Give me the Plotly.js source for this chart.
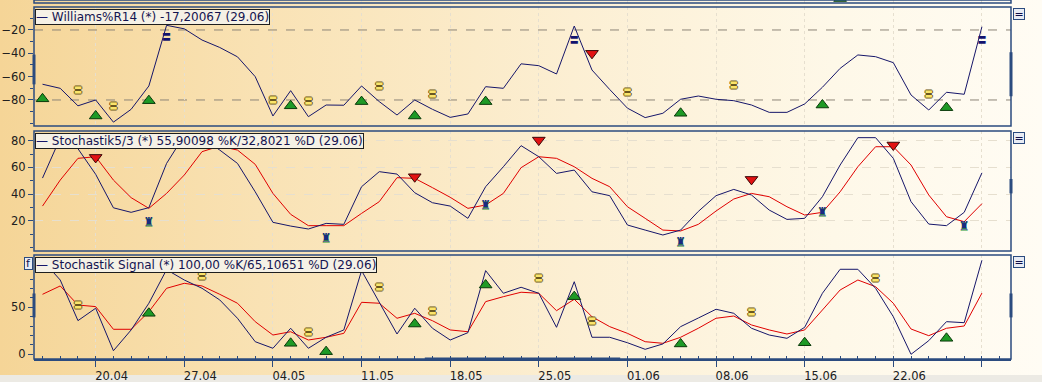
<!DOCTYPE html>
<html><head><meta charset="utf-8">
<script src="https://cdn.plot.ly/plotly-3.0.1.min.js"></script>
<style>
html,body{margin:0;padding:0;background:#fff;}
#wrap{width:1042px;height:382px;position:relative;overflow:hidden;
 background:linear-gradient(to right,#F5D597 0%,#F9E2B4 25%,#FCEFD3 55%,#FEF8E8 80%,#FFFCF4 100%);}
#strip{position:absolute;left:0;right:0;top:375px;height:7px;background:#ECEAE4;}
#chart{position:absolute;left:0;top:0;width:1042px;height:382px;}
</style></head>
<body><div id="wrap"><div id="strip"></div><div id="chart"></div></div>
<script>
// ---------- DATA ----------
const dates = ['15.04','16.04','17.04','20.04','21.04','22.04','23.04','24.04','27.04','28.04','29.04','30.04','01.05',
 '04.05','05.05','06.05','07.05','08.05','11.05','12.05','13.05','14.05','15.05','18.05','19.05','20.05','21.05','22.05',
 '25.05','26.05','27.05','28.05','29.05','01.06','02.06','03.06','04.06','05.06','08.06','09.06','10.06','11.06','12.06',
 '15.06','16.06','17.06','18.06','19.06','22.06','23.06','24.06','25.06','26.06','29.06'];
const weekTicks = ['20.04','27.04','04.05','11.05','18.05','25.05','01.06','08.06','15.06','22.06','29.06'];
const weekLabels = ['20.04','27.04','04.05','11.05','18.05','25.05','01.06','08.06','15.06','22.06',''];

const williams = [-66.5,-70,-85,-80,-99,-88,-68,-16,-19,-28.6,-35,-43,-60,-93.7,-72,-94.3,-84.3,-84.5,-68,-81.4,-92.9,-80,-88,-94.9,-92,-68.6,-70,-49,-50.6,-57.7,-16.6,-54.3,-71,-87,-95.1,-91.4,-79.4,-76.6,-79.4,-80.6,-84.3,-90.6,-90.6,-83.4,-69.1,-52.9,-41.4,-42.9,-48,-75.7,-88.6,-73.4,-75.1,-17.2];
const williamsLevels = [-20,-80];
const willBuyDates = ['15.04','20.04','23.04','05.05','11.05','14.05','20.05','04.06','16.06','25.06'];
const willBuyVals = [-79,-93.7,-80.6,-85,-81.4,-93.7,-81.4,-91.4,-84.3,-86.6];
const willSellDates = ['28.05'];
const willSellVals = [-40];
const willNeutralDates = ['17.04','21.04','04.05','06.05','12.05','15.05','01.06','09.06','24.06'];
const willNeutralVals = [-72,-85.7,-80.6,-81.4,-68.6,-75.7,-73.7,-68,-75.7];
const willExtremeDates = ['24.04','27.05','29.06'];
const willExtremeVals = [-27,-29.4,-29.4];

const stochK = [52,82,74,54.8,29.7,26.3,29.8,63,84,82,73,63,41.7,18.8,16,13.8,18,17.3,45.5,56.8,55,41,33.5,31,21.8,45.5,60.5,76.3,68,55.5,58,41.7,38.8,16.8,13,9.3,13,27,38.8,43.5,39.3,28,21,21.8,38,61.8,82.3,82.3,66.8,34.3,17.5,16.3,26.3,55.9];
const stochD = [31,50.5,66.8,68,50.5,37.3,29.3,40.5,54.3,71.8,76,73,62.3,40.5,24.8,16.3,16.3,16.3,25.5,34.3,52.3,51.8,44.8,37.6,29.3,31.8,40.5,59.8,68,66.8,60.5,51.8,45.5,30.5,21.8,13,12.3,17.3,27.3,36.3,40.5,38,30.5,24.3,26.3,41.7,60.5,75.5,75.5,61.8,39.3,23,19.3,32.8];
const stSellDates = ['20.04','14.05','25.05','10.06','22.06'];
const stSellVals = [67.5,53,80.5,51,76.8];
const stBuyDates = ['23.04','07.05','20.05','04.06','16.06','26.06'];
const stBuyVals = [18.5,6.3,31.3,3,25.5,15.5];

const signalK = [100,79,35.8,49,3.8,25.9,54.3,90,79,70.2,57.8,38.3,13.4,6.4,27.7,6.4,18.1,25.9,89,56,21.6,49,27.7,15.2,23,89,64.9,71.3,64.9,28.7,77.2,18.1,18.1,12.3,5.3,11,29.4,38.6,47.9,43.6,27.7,20.5,17,28.7,64.9,90.4,90.4,70.2,40,0,14.5,34.7,33.6,100];
const signalD = [63.8,72.7,52.4,50.7,26.6,26.6,45.3,70.2,75.5,72.7,63.8,54.3,34.7,20.5,24,15.2,18.1,22.3,55.3,54.3,38.3,43.6,35.7,25.9,24,56,61.3,66,64.9,46.4,58.5,40,29.4,22.3,13.4,11.7,18.1,27.7,38.3,40.7,31.2,25.9,21.6,25.9,47.1,68.4,79,71.9,54.3,26.9,19.8,27.7,30.1,65.1];
const sgBuyDates = ['23.04','05.05','07.05','14.05','20.05','27.05','04.06','15.06','25.06'];
const sgBuyVals = [43.6,11.7,2.8,32.2,73.7,61.3,11,12.3,17];
const sgNeutralDates = ['17.04','28.04','06.05','12.05','15.05','25.05','28.05','10.06','19.06'];
const sgNeutralVals = [51.4,82,23,70.2,44.7,80.1,34.7,43.6,80.1];

const topBuyDates = ['17.06'];
const topBuyVals = [1.5];

const legendTexts = ['Williams%R14 (*) -17,20067 (29.06)',
  'Stochastik5/3 (*) 55,90098 %K/32,8021 %D (29.06)',
  'Stochastik Signal (*) 100,00 %K/65,10651 %D (29.06)'];

// ---------- BUILD ----------
const idx = dates.map((d,i)=>i);
const at = list => list.map(d=>dates.indexOf(d));
const navy = '#16166A', red = '#E00000', axisCol = '#2B4B7F';
const font = 'DejaVu Sans, Verdana, sans-serif';
const tickFont = {family:font, size:11.5, color:'#202020'};

function line(y, color, ax){return {x:idx, y:y, yaxis:ax, type:'scatter', mode:'lines', line:{color:color, width:1}, hoverinfo:'skip'};}
function tri(xs, ys, ax, up){return {x:at(xs), y:ys, yaxis:ax, type:'scatter', mode:'markers', hoverinfo:'skip',
  marker:{symbol: up?'triangle-up':'triangle-down', size:11, color: up?'#1E9A26':'#E21212', line:{color: up?'#0B3A0B':'#3A0808', width:1}}};}
function glyph(xs, ys, ax, ch, size, color, shadow, fam){return {x:at(xs), y:ys, yaxis:ax, type:'scatter', mode:'text', text:xs.map(()=>ch),
  textposition:'middle center', hoverinfo:'skip', textfont:{family:fam||'Noto Sans CJK SC', size:size, color:color, shadow:shadow||'none'}};}
const outl = '1px 0 0 #6A5820, -1px 0 0 #6A5820, 0 1px 0 #6A5820, 0 -1px 0 #6A5820';

const traces = [
  line(williams, navy, 'y3'),
  tri(willBuyDates, willBuyVals, 'y3', true),
  tri(willSellDates, willSellVals, 'y3', false),
  glyph(willNeutralDates, willNeutralVals, 'y3', '〓', 8, '#FBE46A', outl),
  glyph(willExtremeDates, willExtremeVals, 'y3', '〓', 9, '#12126E'),
  line(stochD, red, 'y2'),
  line(stochK, navy, 'y2'),
  tri(stSellDates, stSellVals, 'y2', false),
  glyph(stBuyDates, stBuyVals, 'y2', '♜', 12, '#1A2A80', '0 1px 0 #2E9A3A', font),
  line(signalD, red, 'y'),
  line(signalK, navy, 'y'),
  tri(sgBuyDates, sgBuyVals, 'y', true),
  glyph(sgNeutralDates, sgNeutralVals, 'y', '〓', 8, '#FBE46A', outl),
  tri(topBuyDates, topBuyVals, 'y4', true)
];

const H = 359;
const dom = (top,bot)=>[(H-bot)/H,(H-top)/H];
const baseY = {zeroline:false, showline:false, ticks:'outside', ticklen:5, tickcolor:axisCol, tickfont:tickFont, fixedrange:true, anchor:'x'};
const minorY = {ticks:'outside', ticklen:3, tickcolor:axisCol, dtick:10, showgrid:false};
const gridCol = '#E6DFCF';

const layout = {
  width:1042, height:382, margin:{l:34, r:31, t:0, b:23, pad:0},
  paper_bgcolor:'rgba(0,0,0,0)', plot_bgcolor:'rgba(0,0,0,0)', showlegend:false, hovermode:false,
  xaxis:{range:[-0.48,54.64], tickmode:'array', tickvals:at(weekTicks), ticktext:weekLabels, ticks:'outside', ticklen:6,
    tickcolor:axisCol, ticklabelshift:16, tickfont:tickFont, showgrid:true, gridcolor:gridCol, griddash:'dot', gridwidth:1,
    zeroline:false, showline:true, linecolor:axisCol, linewidth:1.5, anchor:'y', fixedrange:true,
    minor:{tickmode:'linear', tick0:0, dtick:1, ticks:'inside', ticklen:3, tickcolor:axisCol, showgrid:false}},
  yaxis3:Object.assign({}, baseY, {domain:dom(7,126), range:[-102.3,-0.3], tickvals:[-80,-60,-40,-20], showgrid:false, minor:minorY}),
  yaxis7:Object.assign({}, baseY, {overlaying:'y3', side:'right', range:[-102.3,-0.3], tickvals:[-80,-60,-40,-20], showgrid:false, minor:minorY}),
  yaxis2:Object.assign({}, baseY, {domain:dom(131,251), range:[-2.7,87.3], tickvals:[20,40,60,80], showgrid:true, gridcolor:gridCol, griddash:'dash', minor:minorY}),
  yaxis6:Object.assign({}, baseY, {overlaying:'y2', side:'right', range:[-2.7,87.3], tickvals:[20,40,60], showgrid:false, minor:minorY}),
  yaxis:Object.assign({}, baseY, {domain:dom(255,359), range:[-5,105.6], tickvals:[0,50], showgrid:false, minor:minorY}),
  yaxis5:Object.assign({}, baseY, {overlaying:'y', side:'right', range:[-5,105.6], tickvals:[0,50,100], ticktext:['0','50',''], showgrid:true, gridcolor:gridCol, griddash:'dash', minor:minorY}),
  yaxis4:Object.assign({}, baseY, {domain:dom(0,3), range:[0,1], showticklabels:false, ticks:'', showgrid:false}),
  shapes:[], annotations:[]
};

williamsLevels.forEach(v=>layout.shapes.push({type:'line', xref:'paper', x0:0, x1:1, yref:'y3', y0:v, y1:v, layer:'below',
  line:{color:'#8C8578', width:1, dash:'dash'}}));
['y4','y3','y2','y'].forEach(a=>layout.shapes.push({type:'rect', xref:'paper', x0:0, x1:1, yref:a+' domain', y0:0, y1:1,
  line:{color:axisCol, width:1.5}, fillcolor:'rgba(0,0,0,0)', layer:'above'}));
// scroll indicators on the axes
[[0,'y3',0.35,0.6],[1,'y3',0.25,0.62],[1,'y2',0.48,0.6],[0,'y',0.4,0.63],[1,'y',0.4,0.63]].forEach(s=>layout.shapes.push({type:'line',
  xref:'paper', x0:s[0], x1:s[0], yref:s[1]+' domain', y0:s[2], y1:s[3], line:{color:axisCol, width:3}}));
layout.shapes.push({type:'line', xref:'paper', x0:0.4, x1:0.6, yref:'y domain', y0:0, y1:0, line:{color:axisCol, width:3}});

['y3','y2','y'].forEach((a,k)=>{
  layout.annotations.push({xref:'paper', x:0, xanchor:'left', xshift:1, yref:a+' domain', y:1, yanchor:'top', yshift:-2,
    text:'<span style="color:'+navy+'">—</span> '+legendTexts[k], showarrow:false, align:'left',
    font:{family:font, size:12, color:'#141450'}, bgcolor:'#F5F1E6', bordercolor:'#1E1E1E', borderwidth:1, borderpad:0});
  layout.annotations.push({xref:'paper', x:1, xanchor:'left', xshift:2, yref:a+' domain', y:1, yanchor:'top', yshift:-1,
    text:'=', showarrow:false, width:10, height:10, font:{family:font, size:11, color:'#10104A'},
    bgcolor:'#E8ECF4', bordercolor:axisCol, borderwidth:1, borderpad:0});
});
layout.annotations.push({xref:'paper', x:0, xanchor:'right', xshift:-1, yref:'y domain', y:1, yanchor:'top', yshift:-2,
  text:'f', showarrow:false, width:7, height:11, font:{family:font, size:11, color:'#10104A'},
  bgcolor:'#E8ECF4', bordercolor:axisCol, borderwidth:1, borderpad:0});

Plotly.newPlot('chart', traces, layout, {displayModeBar:false, staticPlot:true});
</script>
</body></html>
